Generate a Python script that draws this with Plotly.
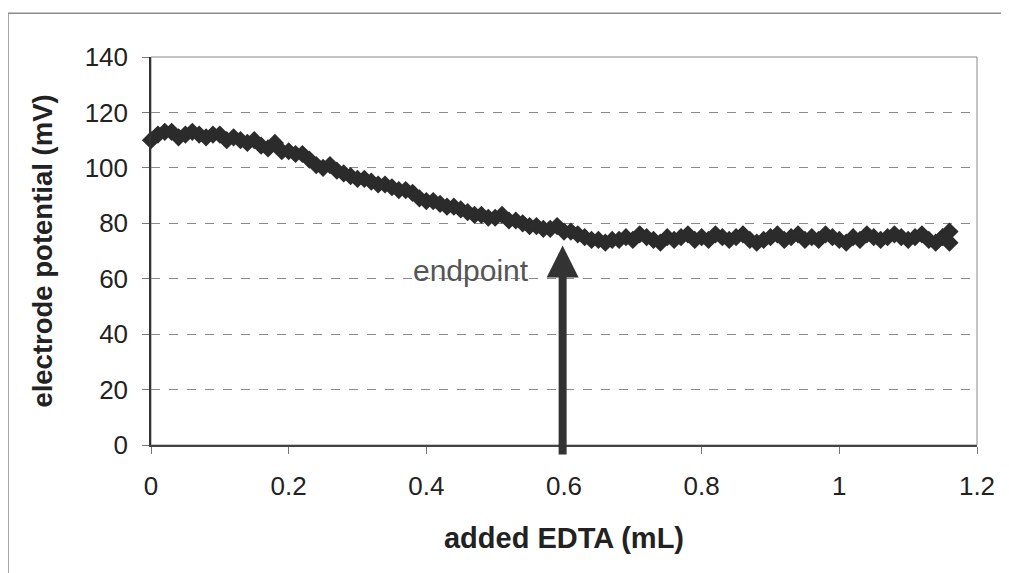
import plotly.graph_objects as go

edta_ml = [
    0.00, 0.01, 0.02, 0.03, 0.04, 0.05, 0.06, 0.07, 0.08, 0.09,
    0.10, 0.11, 0.12, 0.13, 0.14, 0.15, 0.16, 0.17, 0.18, 0.19,
    0.20, 0.21, 0.22, 0.23, 0.24, 0.25, 0.26, 0.27, 0.28, 0.29,
    0.30, 0.31, 0.32, 0.33, 0.34, 0.35, 0.36, 0.37, 0.38, 0.39,
    0.40, 0.41, 0.42, 0.43, 0.44, 0.45, 0.46, 0.47, 0.48, 0.49,
    0.50, 0.51, 0.52, 0.53, 0.54, 0.55, 0.56, 0.57, 0.58, 0.59,
    0.60, 0.61, 0.62, 0.63, 0.64, 0.65, 0.66, 0.67, 0.68, 0.69,
    0.70, 0.71, 0.72, 0.73, 0.74, 0.75, 0.76, 0.77, 0.78, 0.79,
    0.80, 0.81, 0.82, 0.83, 0.84, 0.85, 0.86, 0.87, 0.88, 0.89,
    0.90, 0.91, 0.92, 0.93, 0.94, 0.95, 0.96, 0.97, 0.98, 0.99,
    1.00, 1.01, 1.02, 1.03, 1.04, 1.05, 1.06, 1.07, 1.08, 1.09,
    1.10, 1.11, 1.12, 1.13, 1.14, 1.15, 1.16, 1.16,
]
potential_mv = [
    110, 112, 113, 113, 111, 112, 113, 112, 111, 112,
    112, 110, 111, 110, 109, 110, 108, 107, 109, 106,
    106, 105, 105, 103, 101, 100, 101, 99, 98, 97,
    96, 96, 95, 94, 94, 93, 92, 92, 91, 89,
    88, 88, 87, 86, 86, 85, 84, 83, 83, 82,
    82, 83, 81, 81, 80, 79, 79, 78, 78, 79,
    77, 77, 76, 75, 74, 74, 73, 74, 74, 75,
    74, 76, 75, 74, 73, 75, 74, 75, 76, 74,
    75, 74, 76, 75, 74, 75, 76, 74, 73, 74,
    75, 76, 74, 75, 76, 74, 75, 74, 76, 75,
    74, 73, 75, 74, 76, 75, 74, 75, 76, 75,
    74, 75, 76, 74, 73, 75, 77, 73,
]

x_ticks = [0, 0.2, 0.4, 0.6, 0.8, 1, 1.2]
y_ticks = [0, 20, 40, 60, 80, 100, 120, 140]

endpoint_x = 0.598
endpoint_label = "endpoint"

FONT = "Liberation Sans, Arial, sans-serif"

fig = go.Figure()
fig.add_trace(go.Scatter(
    x=edta_ml, y=potential_mv, mode="markers",
    marker=dict(symbol="diamond", size=14, color="#2b2b2b",
                line=dict(width=0)),
    showlegend=False, cliponaxis=False,
))

fig.add_annotation(
    x=endpoint_x, y=72, ax=endpoint_x, ay=-4,
    xref="x", yref="y", axref="x", ayref="y",
    showarrow=True, arrowhead=2, arrowsize=0.8, arrowwidth=8,
    arrowcolor="#333333", text="",
)
fig.add_annotation(
    x=0.377, y=63, xref="x", yref="y", text=endpoint_label,
    showarrow=False, xanchor="left",
    font=dict(family=FONT, size=30, color="#555555"),
)

# outer chart frame (left and top edges visible in the original)
fig.add_shape(type="line", xref="paper", yref="paper",
              x0=-0.1731, x1=-0.1731, y0=-0.33, y1=1.113,
              line=dict(color="#8c8c8c", width=1.5), layer="below")
fig.add_shape(type="line", xref="paper", yref="paper",
              x0=-0.1731, x1=1.03, y0=1.113, y1=1.113,
              line=dict(color="#8c8c8c", width=1.5), layer="below")
# plot area border (top/right lighter)
fig.add_shape(type="rect", xref="paper", yref="paper",
              x0=0, x1=1, y0=0, y1=1,
              line=dict(color="#8a8a8a", width=1), layer="below")

fig.update_layout(
    width=1009, height=573,
    margin=dict(l=143, r=40, t=49, b=136),
    paper_bgcolor="white", plot_bgcolor="white",
    font=dict(family=FONT, size=26, color="#222222"),
)
fig.update_xaxes(
    range=[0, 1.2], tickvals=x_ticks,
    ticktext=[f"{v:g}" for v in x_ticks],
    showgrid=False, zeroline=False, automargin=False,
    showline=True, linecolor="#444444", linewidth=1.5,
    ticks="outside", ticklen=7, tickcolor="#777777",
    ticklabelstandoff=10,
    title=dict(text="<b>added EDTA (mL)</b>", standoff=28,
               font=dict(family=FONT, size=29, color="#222222")),
)
fig.update_yaxes(
    range=[0, 140], tickvals=y_ticks,
    showgrid=True, gridcolor="#8a8a8a", griddash="dash", gridwidth=1,
    zeroline=False, automargin=False,
    showline=True, linecolor="#333333", linewidth=1.5,
    ticks="outside", ticklen=7, tickcolor="#777777",
    ticklabelstandoff=9,
    title=dict(text="<b>electrode potential (mV)</b>", standoff=24,
               font=dict(family=FONT, size=27.5, color="#222222")),
)

fig.write_html("out.html")
